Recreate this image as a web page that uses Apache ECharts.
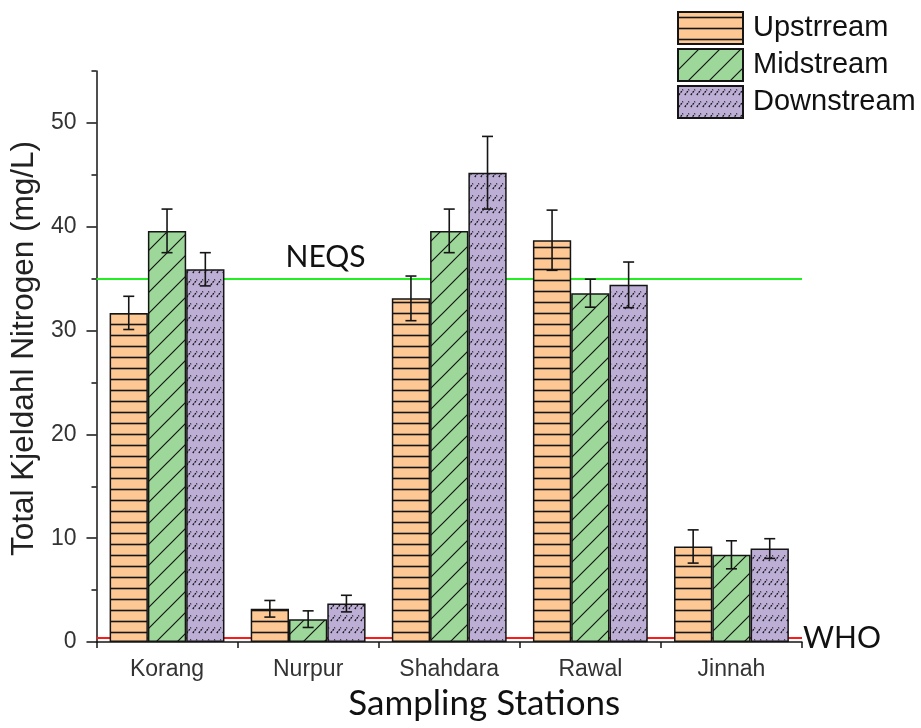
<!DOCTYPE html>
<html>
<head>
<meta charset="utf-8">
<script src="https://cdn.jsdelivr.net/npm/echarts@6/dist/echarts.min.js"></script>
<style>
  html, body { margin: 0; padding: 0; background: #fff; }
  #chart { width: 921px; height: 728px; }
</style>
</head>
<body>
<div id="chart"></div>
<script>
// Total Kjeldahl Nitrogen at five sampling stations (mean ± error)
const stations = ['Korang', 'Nurpur', 'Shahdara', 'Rawal', 'Jinnah'];
const seriesNames = ['Upstrream', 'Midstream', 'Downstream'];
const upstream = [31.7, 3.2, 33.1, 38.7, 9.2];
const upstreamErr = [1.6, 0.8, 2.15, 2.9, 1.6];
const midstream = [39.6, 2.2, 39.6, 33.6, 8.4];
const midstreamErr = [2.1, 0.8, 2.1, 1.35, 1.35];
const downstream = [35.9, 3.7, 45.2, 34.4, 9.0];
const downstreamErr = [1.6, 0.8, 3.5, 2.2, 0.95];
const yTicks = [0, 10, 20, 30, 40, 50];
const yMinorTicks = [5, 15, 25, 35, 45, 55];
const limitNEQS = 35;
const limitWHO = 0.4;

const CAT_GAP = 0.186;

function pattern(bg, w, h, draw) {
  const c = document.createElement('canvas');
  c.width = w; c.height = h;
  const ctx = c.getContext('2d');
  ctx.fillStyle = bg;
  ctx.fillRect(0, 0, w, h);
  ctx.strokeStyle = '#151515';
  draw(ctx);
  return { image: c, repeat: 'repeat' };
}

// horizontal stripes
const fillUp = pattern('#fdc894', 8, 11, ctx => {
  ctx.lineWidth = 1.6;
  ctx.beginPath(); ctx.moveTo(0, 5.5); ctx.lineTo(8, 5.5); ctx.stroke();
});
// wide diagonal lines
const fillMid = pattern('#9dd89a', 21, 21, ctx => {
  ctx.lineWidth = 1.2;
  ctx.beginPath();
  ctx.moveTo(-2, 23); ctx.lineTo(23, -2);
  ctx.moveTo(-2, 2); ctx.lineTo(2, -2);
  ctx.moveTo(19, 23); ctx.lineTo(23, 19);
  ctx.stroke();
});
// short dashed diagonal strokes in rows
const fillDown = pattern('#bdaed6', 6, 12, ctx => {
  ctx.lineWidth = 1.3;
  ctx.setLineDash([2, 1]);
  ctx.beginPath(); ctx.moveTo(0.8, 9); ctx.lineTo(5, 3.5); ctx.stroke();
});

const fills = [fillUp, fillMid, fillDown];
const values = [upstream, midstream, downstream];
const errors = [upstreamErr, midstreamErr, downstreamErr];

function errorRenderer(k) {
  return function (params, api) {
    const cat = api.value(0);
    const lo = api.coord([cat, api.value(1)]);
    const hi = api.coord([cat, api.value(2)]);
    const band = api.size([1, 0])[0];
    const bw = band * (1 - CAT_GAP) / 3;
    const x = lo[0] + (k - 1) * bw;
    const cap = 5.5;
    const style = { stroke: '#151515', lineWidth: 1.6 };
    return {
      type: 'group',
      children: [
        { type: 'line', shape: { x1: x, y1: lo[1], x2: x, y2: hi[1] }, style },
        { type: 'line', shape: { x1: x - cap, y1: hi[1], x2: x + cap, y2: hi[1] }, style },
        { type: 'line', shape: { x1: x - cap, y1: lo[1], x2: x + cap, y2: lo[1] }, style }
      ]
    };
  };
}

const barSeries = seriesNames.map((name, k) => ({
  name,
  type: 'bar',
  xAxisIndex: 0,
  yAxisIndex: 0,
  data: values[k],
  barGap: '0%',
  barCategoryGap: (CAT_GAP * 100) + '%',
  z: 2,
  itemStyle: { color: fills[k], borderColor: '#151515', borderWidth: 1.5 },
  emphasis: { disabled: true }
}));

const errSeries = seriesNames.map((name, k) => ({
  type: 'custom',
  xAxisIndex: 0,
  yAxisIndex: 0,
  z: 4,
  silent: true,
  renderItem: errorRenderer(k),
  encode: { x: 0, y: [1, 2] },
  data: stations.map((s, i) => [i, values[k][i] - errors[k][i], values[k][i] + errors[k][i]])
}));

const limitSeries = {
  type: 'line',
  xAxisIndex: 0,
  yAxisIndex: 0,
  data: [],
  z: 1,
  markLine: {
    silent: true,
    symbol: 'none',
    z: 1,
    animation: false,
    data: [
      {
        yAxis: limitNEQS,
        lineStyle: { color: '#22ee22', width: 2, type: 'solid' },
        label: {
          show: true, formatter: 'NEQS', position: 'insideStartTop',
          distance: 6, padding: [0, 0, 0, 183],
          fontFamily: 'Lato', fontSize: 30, color: '#111'
        }
      },
      {
        yAxis: limitWHO,
        lineStyle: { color: '#ff1a1a', width: 2, type: 'solid' },
        label: {
          show: true, formatter: 'WHO', position: 'end', distance: 1,
          fontFamily: 'Lato', fontSize: 30, color: '#111'
        }
      }
    ]
  }
};

const axisFont = { fontFamily: 'Liberation Sans, Arial, sans-serif', fontSize: 23, color: '#333' };

const option = {
  animation: false,
  backgroundColor: '#fff',
  legend: {
    data: seriesNames,
    orient: 'vertical',
    left: 677,
    top: 11,
    padding: 0,
    itemWidth: 65,
    itemHeight: 32,
    itemGap: 3,
    icon: 'rect',
    selectedMode: false,
    textStyle: { fontFamily: 'Liberation Sans, Arial, sans-serif', fontSize: 29, color: '#111', padding: [0, 0, 0, 5] }
  },
  grid: { left: 96, right: 119, top: 71, bottom: 86, containLabel: false },
  xAxis: [
    {
      type: 'category',
      data: stations,
      position: 'bottom',
      name: 'Sampling Stations',
      nameLocation: 'middle',
      nameGap: 44,
      nameTextStyle: { fontFamily: 'Lato', fontSize: 35, color: '#111', padding: [0, 0, 0, 70] },
      axisLine: { lineStyle: { color: '#151515', width: 1.5 } },
      axisTick: { alignWithLabel: true, length: 11, lineStyle: { color: '#151515', width: 1.5 } },
      axisLabel: Object.assign({ margin: 16 }, axisFont),
      splitLine: { show: false }
    },
    {
      type: 'category',
      data: stations,
      position: 'bottom',
      axisLine: { show: false },
      axisTick: { show: true, length: 6, lineStyle: { color: '#151515', width: 1.5 } },
      axisLabel: { show: false },
      splitLine: { show: false }
    }
  ],
  yAxis: [
    {
      type: 'value',
      min: 0,
      max: 55,
      interval: 10,
      position: 'left',
      name: 'Total Kjeldahl Nitrogen (mg/L)',
      nameLocation: 'middle',
      nameGap: 54,
      nameTextStyle: { fontFamily: 'Liberation Sans, Arial, sans-serif', fontSize: 31.5, color: '#222', padding: [0, 0, 0, 16] },
      axisLine: { show: true, lineStyle: { color: '#151515', width: 1.5 } },
      axisTick: { show: true, length: 10, customValues: yTicks, lineStyle: { color: '#151515', width: 1.5 } },
      axisLabel: Object.assign({ margin: 20, customValues: yTicks }, axisFont),
      splitLine: { show: false }
    },
    {
      type: 'value',
      min: 0,
      max: 55,
      interval: 5,
      position: 'left',
      axisLine: { show: false },
      axisTick: { show: true, length: 5, customValues: yMinorTicks, lineStyle: { color: '#151515', width: 1.5 } },
      axisLabel: { show: false },
      splitLine: { show: false }
    }
  ],
  series: [limitSeries].concat(barSeries, errSeries)
};

const chart = echarts.init(document.getElementById('chart'), null, { renderer: 'canvas' });
chart.setOption(option);
</script>
</body>
</html>
